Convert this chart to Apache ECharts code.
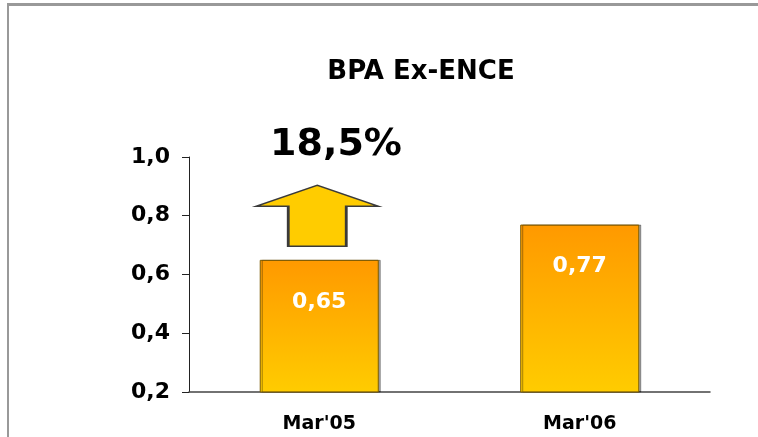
<!DOCTYPE html>
<html>
<head>
<meta charset="utf-8">
<script src="https://cdn.jsdelivr.net/npm/echarts@6/dist/echarts.min.js"></script>
<style>
  html, body { margin: 0; padding: 0; background: #fff; }
  #chart { width: 758px; height: 437px; }
</style>
</head>
<body>
<div id="chart"></div>
<script>
const categories = ["Mar'05", "Mar'06"]
const bpaValues = [0.65, 0.77]
const yTicks = { min: 0.2, max: 1.0, step: 0.2 }
const growthText = '18,5%'
const arrowAt = ["Mar'05", 0.8]

const FONT = '"DejaVu Sans", Verdana, sans-serif'
const fmtComma = (v, d) => Number(v).toFixed(d).replace('.', ',')

const chart = echarts.init(document.getElementById('chart'))
chart.setOption({
  animation: false,
  grid: { left: 189, right: 48, top: 157, bottom: 45 },
  xAxis: {
    type: 'category',
    data: categories,
    axisLine: { lineStyle: { color: '#444', width: 1.5 } },
    axisTick: { length: 7, lineStyle: { color: '#222' } },
    axisLabel: { color: '#000', fontFamily: FONT, fontWeight: 'bold', fontSize: 19, margin: 23 },
  },
  yAxis: {
    type: 'value',
    min: yTicks.min,
    max: yTicks.max,
    interval: yTicks.step,
    splitLine: { show: false },
    axisLine: { show: true, lineStyle: { color: '#222' } },
    axisTick: { show: true, length: 7, lineStyle: { color: '#222' } },
    axisLabel: {
      color: '#000', fontFamily: FONT, fontWeight: 'bold', fontSize: 22, margin: 19,
      formatter: (v) => fmtComma(v, 1),
    },
  },
  series: [
    {
      type: 'bar',
      data: bpaValues,
      barWidth: '45.7%',
      itemStyle: {
        color: new echarts.graphic.LinearGradient(0, 0, 0, 1, [
          { offset: 0, color: '#FF9900' },
          { offset: 1, color: '#FFCC00' },
        ]),
        borderColor: '#7a5a00',
        borderWidth: 1,
        shadowColor: 'rgba(0,0,0,0.35)',
        shadowOffsetX: 2,
        shadowBlur: 0,
      },
      label: {
        show: true,
        position: 'insideTop',
        distance: 31,
        color: '#fff',
        fontFamily: FONT,
        fontWeight: 'bold',
        fontSize: 22,
        formatter: (p) => fmtComma(p.value, 2),
      },
      markPoint: {
        silent: true,
        symbol: 'path://M61,0 L122,21 L90,21 L90,61 L32,61 L32,21 L0,21 Z',
        symbolSize: [122, 61],
        symbolOffset: [-2, 0],
        itemStyle: { color: '#FFCC00', borderColor: '#3a3a3a', borderWidth: 2 },
        label: { show: false },
        data: [{ coord: arrowAt }],
      },
    },
  ],
  graphic: [
    { type: 'rect', shape: { x: 8, y: 3, width: 750, height: 3 }, style: { fill: '#999' } },
    { type: 'rect', shape: { x: 7, y: 3, width: 2, height: 434 }, style: { fill: '#999' } },
    {
      type: 'text', x: 421, y: 72,
      style: { text: 'BPA Ex-ENCE', fill: '#000', font: 'bold 26px ' + FONT, textAlign: 'center', textVerticalAlign: 'middle' },
    },
    {
      type: 'text', x: 336, y: 145,
      style: { text: growthText, fill: '#000', font: 'bold 38px ' + FONT, textAlign: 'center', textVerticalAlign: 'middle' },
    },
  ],
})
</script>
</body>
</html>
